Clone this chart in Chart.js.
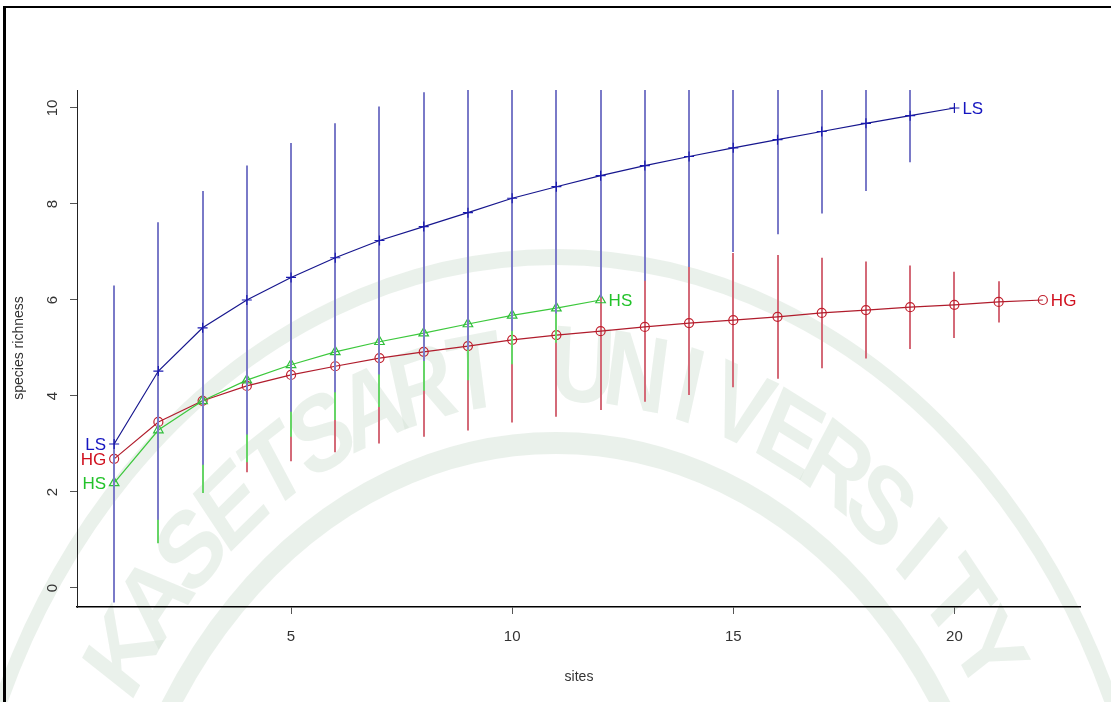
<!DOCTYPE html>
<html>
<head>
<meta charset="utf-8">
<script src="https://cdn.jsdelivr.net/npm/chart.js@4.4.0/dist/chart.umd.min.js"></script>
<style>
  html, body { margin: 0; padding: 0; background: #fff; overflow: hidden; }
  #wrap { position: relative; width: 1111px; height: 702px; }
  canvas { display: block; }
</style>
</head>
<body>
<div id="wrap"><canvas id="c" width="1111" height="702"></canvas></div>
<script>
// Species accumulation curves (mean richness and half-length of the interval bar)
const lsSites = [1,2,3,4,5,6,7,8,9,10,11,12,13,14,15,16,17,18,19,20];
const lsRichness = [3.0, 4.52, 5.42, 6.0, 6.47, 6.88, 7.24, 7.53, 7.82, 8.12, 8.36, 8.59, 8.8, 8.99, 9.17, 9.34, 9.51, 9.68, 9.84, 10.0];
const lsCi = [3.3, 3.1, 2.85, 2.8, 2.8, 2.8, 2.79, 2.8, 2.85, 2.76, 2.64, 2.54, 2.4, 2.3, 2.17, 1.97, 1.71, 1.41, 0.97, 0];

const hgSites = [1,2,3,4,5,6,7,8,9,10,11,12,13,14,15,16,17,18,19,20,21,22];
const hgRichness = [2.69, 3.46, 3.9, 4.21, 4.44, 4.62, 4.79, 4.92, 5.04, 5.17, 5.27, 5.35, 5.44, 5.52, 5.58, 5.65, 5.73, 5.79, 5.85, 5.9, 5.96, 6.0];
const hgCi = [1.9, 1.85, 1.8, 1.8, 1.8, 1.79, 1.78, 1.77, 1.76, 1.72, 1.7, 1.64, 1.56, 1.5, 1.4, 1.29, 1.15, 1.01, 0.87, 0.69, 0.43, 0];

const hsSites = [1,2,3,4,5,6,7,8,9,10,11,12];
const hsRichness = [2.19, 3.29, 3.9, 4.33, 4.65, 4.92, 5.13, 5.31, 5.5, 5.68, 5.83, 6.0];
const hsCi = [2.0, 2.36, 1.92, 1.71, 1.5, 1.42, 1.36, 1.2, 1.17, 1.02, 0.72, 0];

const xTicks = [5, 10, 15, 20];
const yTicks = [0, 2, 4, 6, 8, 10];
const xTitle = 'sites';
const yTitle = 'species richness';
const sealText = 'KASETSART UNIVERSITY';

const pts = (xs, ys) => xs.map((x, i) => ({ x: x, y: ys[i] }));

const FONT = '"Liberation Sans", Arial, sans-serif';

// Interval bars drawn just before each curve, using the chart scales
const ciBars = {
  id: 'ciBars',
  beforeDatasetDraw(chart, args) {
    const ds = chart.data.datasets[args.index];
    if (!ds.ci) return;
    const { ctx, chartArea: a, scales: { x, y } } = chart;
    ctx.save();
    ctx.beginPath();
    ctx.rect(a.left, a.top, a.right - a.left, a.bottom - a.top);
    ctx.clip();
    ctx.strokeStyle = ds.ciColor;
    ctx.lineWidth = 2;
    ds.data.forEach((p, i) => {
      const h = ds.ci[i];
      if (!h) return;
      const px = Math.round(x.getPixelForValue(p.x));
      ctx.beginPath();
      ctx.moveTo(px, y.getPixelForValue(p.y - h));
      ctx.lineTo(px, y.getPixelForValue(p.y + h));
      ctx.stroke();
    });
    ctx.restore();
  }
};

// Faint seal in the background and the page frame
const backdrop = {
  id: 'backdrop',
  beforeDraw(chart) {
    const ctx = chart.ctx;
    ctx.save();
    ctx.fillStyle = '#fff';
    ctx.fillRect(0, 0, chart.width, chart.height);
    ctx.translate(556, 995);
    ctx.scale(0.82, 1);
    const tint = 'rgba(214,228,216,0.5)';
    ctx.strokeStyle = tint;
    ctx.lineWidth = 16;
    ctx.beginPath();
    ctx.arc(0, 0, 738, Math.PI * 1.0, Math.PI * 2.0);
    ctx.stroke();
    ctx.lineWidth = 22;
    ctx.beginPath();
    ctx.arc(0, 0, 552, Math.PI * 1.0, Math.PI * 2.0);
    ctx.stroke();
    ctx.fillStyle = tint;
    ctx.font = 'bold 108px ' + FONT;
    ctx.textAlign = 'center';
    ctx.textBaseline = 'alphabetic';
    const a0 = -147 * Math.PI / 180, a1 = -33 * Math.PI / 180;
    for (let i = 0; i < sealText.length; i++) {
      const ch = sealText[i];
      if (ch === ' ') continue;
      const ang = a0 + (a1 - a0) * i / (sealText.length - 1);
      ctx.save();
      ctx.translate(594 * Math.cos(ang), 594 * Math.sin(ang));
      ctx.rotate(ang + Math.PI / 2);
      ctx.fillText(ch, 0, 0);
      ctx.restore();
    }
    ctx.restore();
  },
  afterDraw(chart) {
    const { ctx, scales: { x, y } } = chart;
    ctx.save();
    // frame
    ctx.fillStyle = '#000';
    ctx.fillRect(3, 6, 3, chart.height - 6);
    ctx.fillRect(3, 6, chart.width - 3, 2);

    // tick labels
    ctx.fillStyle = '#333';
    ctx.font = '15px ' + FONT;
    ctx.textAlign = 'center';
    ctx.textBaseline = 'middle';
    xTicks.forEach(v => ctx.fillText(String(v), x.getPixelForValue(v), 637));
    yTicks.forEach(v => {
      ctx.save();
      ctx.translate(53, y.getPixelForValue(v));
      ctx.rotate(-Math.PI / 2);
      ctx.fillText(String(v), 0, 0);
      ctx.restore();
    });
    // axis titles
    ctx.font = '14px ' + FONT;
    ctx.fillText(xTitle, (x.left + x.right) / 2 + 0.5, 677);
    ctx.save();
    ctx.translate(19, (y.top + y.bottom) / 2 - 0.5);
    ctx.rotate(-Math.PI / 2);
    ctx.fillText(yTitle, 0, 0);
    ctx.restore();

    // curve names at both ends of each curve
    ctx.font = '17px ' + FONT;
    chart.data.datasets.forEach(ds => {
      const first = ds.data[0], last = ds.data[ds.data.length - 1];
      ctx.fillStyle = ds.labelColor;
      ctx.textAlign = 'right';
      ctx.fillText(ds.label, x.getPixelForValue(first.x) - 8, y.getPixelForValue(first.y) + 1);
      ctx.textAlign = 'left';
      ctx.fillText(ds.label, x.getPixelForValue(last.x) + 8, y.getPixelForValue(last.y) + 1);
    });
    ctx.restore();
  }
};

new Chart(document.getElementById('c'), {
  type: 'line',
  data: {
    datasets: [
      {
        label: 'LS', order: 1, data: pts(lsSites, lsRichness), ci: lsCi,
        borderColor: '#16168e', borderWidth: 1.2, ciColor: '#7a7ac8', labelColor: '#1515c0',
        pointStyle: 'cross', pointRadius: 5, pointBorderColor: '#1a1ab0', pointBorderWidth: 1.2,
        pointBackgroundColor: 'transparent', tension: 0
      },
      {
        label: 'HS', order: 2, data: pts(hsSites, hsRichness), ci: hsCi,
        borderColor: '#3cc83c', borderWidth: 1.2, ciColor: '#66d466', labelColor: '#22c22a',
        pointStyle: 'triangle', pointRadius: 5.5, pointBorderColor: '#2fbf3a', pointBorderWidth: 1.2,
        pointBackgroundColor: 'transparent', tension: 0
      },
      {
        label: 'HG', order: 3, data: pts(hgSites, hgRichness), ci: hgCi,
        borderColor: '#b01c2c', borderWidth: 1.2, ciColor: '#d46a78', labelColor: '#d0101e',
        pointStyle: 'circle', pointRadius: 4.5, pointBorderColor: '#c0202e', pointBorderWidth: 1.2,
        pointBackgroundColor: 'transparent', tension: 0
      }
    ]
  },
  options: {
    responsive: false,
    animation: false,
    devicePixelRatio: 1,
    layout: { padding: { top: 90, right: 31, left: 0, bottom: 0 } },
    plugins: { legend: { display: false }, tooltip: { enabled: false } },
    scales: {
      x: {
        type: 'linear', min: 0.16, max: 22.84,
        afterBuildTicks: s => { s.ticks = xTicks.map(v => ({ value: v })); },
        afterFit: s => { s.height = 95; },
        ticks: { display: false },
        grid: { drawOnChartArea: false, drawTicks: true, tickLength: 7, color: '#555', lineWidth: 1 },
        border: { color: '#000', width: 1.6 }
      },
      y: {
        type: 'linear', min: -0.396, max: 10.375,
        afterBuildTicks: s => { s.ticks = yTicks.map(v => ({ value: v })); },
        afterFit: s => { s.width = 77; },
        ticks: { display: false },
        grid: { drawOnChartArea: false, drawTicks: true, tickLength: 7, color: '#555', lineWidth: 1 },
        border: { color: '#222', width: 1 }
      }
    }
  },
  plugins: [backdrop, ciBars]
});
</script>
</body>
</html>
